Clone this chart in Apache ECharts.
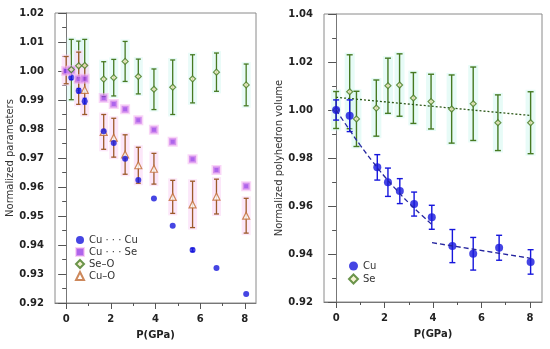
<!DOCTYPE html>
<html><head><meta charset="utf-8">
<script src="https://cdn.jsdelivr.net/npm/echarts@6/dist/echarts.min.js"></script>
<style>html,body{margin:0;padding:0;background:#fff}#c{width:550px;height:349px}</style>
</head><body><div id="c"></div>
<script>
// ---------- Left panel: normalized parameters ----------
const cuCuP = [0, 0.23, 0.56, 0.83, 1.68, 2.13, 2.64, 3.23, 3.93, 4.77, 5.66, 6.73, 8.06];
const cuCuV = [1.000, 0.9978, 0.9932, 0.9896, 0.9792, 0.9752, 0.9697, 0.9624, 0.9560, 0.9466, 0.9383, 0.9321, 0.9231];
const cuCuE = [0, 0.0008, 0.0008, 0.0010, 0, 0, 0, 0, 0, 0, 0.0006, 0, 0];

const cuSeP = [0, 0.23, 0.56, 0.83, 1.68, 2.13, 2.64, 3.23, 3.93, 4.77, 5.66, 6.73, 8.06];
const cuSeV = [1.000, 1.0003, 0.9972, 0.9973, 0.9907, 0.9886, 0.9868, 0.9830, 0.9797, 0.9756, 0.9696, 0.9659, 0.9603];

const seOP = [0.23, 0.56, 0.83, 1.68, 2.13, 2.64, 3.23, 3.93, 4.77, 5.66, 6.73, 8.06];
const seOV = [1.0005, 1.0018, 1.0019, 0.9972, 0.9977, 1.0033, 0.9981, 0.9937, 0.9944, 0.9973, 0.9996, 0.9952];
const seOE = [0.0104, 0.0085, 0.0090, 0.0060, 0.0063, 0.0069, 0.0060, 0.0070, 0.0094, 0.0083, 0.0066, 0.0072];

const cuOP = [0, 0.56, 0.83, 1.68, 2.13, 2.64, 3.23, 3.93, 4.77, 5.66, 6.73, 8.06];
const cuOV = [1.0003, 0.9975, 0.9935, 0.9790, 0.9770, 0.9712, 0.9675, 0.9663, 0.9566, 0.9540, 0.9567, 0.9501];
const cuOE = [0.0047, 0.0090, 0.0085, 0.0060, 0.0067, 0.0068, 0.0062, 0.0053, 0.0057, 0.0080, 0.0060, 0.0060];

// ---------- Right panel: normalized polyhedron volume ----------
const cuP = [0, 0.56, 1.70, 2.14, 2.63, 3.22, 3.95, 4.80, 5.66, 6.73, 8.03];
const cuV = [1.000, 0.9976, 0.9761, 0.9699, 0.9662, 0.9608, 0.9553, 0.9433, 0.9401, 0.9426, 0.9367];
const cuE = [0.0042, 0.0066, 0.0053, 0.0059, 0.0052, 0.0050, 0.0050, 0.0069, 0.0068, 0.0052, 0.0051];

const seP = [0, 0.56, 0.84, 1.66, 2.14, 2.62, 3.19, 3.92, 4.77, 5.66, 6.68, 8.03];
const seV = [1.000, 1.0076, 0.9963, 1.0008, 1.0101, 1.0104, 1.0050, 1.0035, 1.0004, 1.0026, 0.9947, 0.9947];
const seE = [0.0077, 0.0154, 0.0115, 0.0117, 0.0115, 0.0130, 0.0106, 0.0114, 0.0142, 0.0153, 0.0116, 0.0129];

const cuFit1P = [0, 0.5, 1, 1.5, 2, 2.5, 3, 3.5, 3.96];
const cuFit1V = [1.000, 0.9925, 0.9853, 0.9786, 0.9723, 0.9666, 0.9613, 0.9565, 0.9522];
const cuFit2P = [3.96, 8.03];
const cuFit2V = [0.9447, 0.9382];
const seFitP = [0, 8.05];
const seFitV = [1.0053, 0.9977];

const xMajorTicks = [0, 2, 4, 6, 8];
const xMinorTicks = [1, 3, 5, 7];

// ---------- helpers ----------
const pts = (p, v) => p.map((x, i) => [x, v[i]]);
const pts3 = (p, v, e) => p.map((x, i) => [x, v[i], e[i]]);

function makeErr(color, halo, hw, lw) {
  return function (params, api) {
    const x = api.value(0), y = api.value(1), e = api.value(2);
    if (!e) return null;
    const t = api.coord([x, y + e]), b = api.coord([x, y - e]);
    const ch = [];
    if (halo) ch.push({type: 'rect', shape: {x: t[0] - hw - 2, y: t[1] - 2, width: 2 * hw + 4, height: b[1] - t[1] + 4}, style: {fill: halo}});
    const st = {stroke: color, lineWidth: lw};
    ch.push({type: 'line', shape: {x1: t[0], y1: t[1], x2: b[0], y2: b[1]}, style: st});
    ch.push({type: 'line', shape: {x1: t[0] - hw, y1: t[1], x2: t[0] + hw, y2: t[1]}, style: st});
    ch.push({type: 'line', shape: {x1: b[0] - hw, y1: b[1], x2: b[0] + hw, y2: b[1]}, style: st});
    return {type: 'group', children: ch};
  };
}

const FONT = 'DejaVu Sans';
const tickLabel = {fontFamily: FONT, fontWeight: 'bold', fontSize: 10, color: '#222'};

function xAxes(grid) {
  return [{
    gridIndex: grid, type: 'value', min: -0.5, max: 8.5,
    axisLine: {show: true, lineStyle: {color: '#777', width: 1}},
    axisTick: {show: true, customValues: xMajorTicks, length: 6, lineStyle: {color: '#555'}},
    axisLabel: {customValues: xMajorTicks, margin: 11, ...tickLabel},
    splitLine: {show: false},
    name: 'P(GPa)', nameLocation: 'middle', nameGap: 27,
    nameTextStyle: {fontFamily: FONT, fontWeight: 'bold', fontSize: 10, color: '#222'}
  }, {
    gridIndex: grid, type: 'value', min: -0.5, max: 8.5, position: 'bottom',
    axisLine: {show: false},
    axisTick: {show: true, customValues: xMinorTicks, length: 3, lineStyle: {color: '#555'}},
    axisLabel: {show: false}, splitLine: {show: false}
  }];
}
function yAxis(grid, min, max, interval, name) {
  return {
    gridIndex: grid, type: 'value', min: min, max: max, interval: interval,
    axisLine: {show: true, lineStyle: {color: '#777', width: 1}},
    axisTick: {show: true, length: 8, lineStyle: {color: '#555'}},
    minorTick: {show: true, splitNumber: 2, length: 4, lineStyle: {color: '#555'}},
    axisLabel: {margin: 11, formatter: v => v.toFixed(2), ...tickLabel},
    splitLine: {show: false},
    name: name, nameLocation: 'middle', nameGap: 37, nameRotate: 90,
    nameTextStyle: {fontFamily: FONT, fontSize: 10, color: '#333'}
  };
}

const BLUE = '#1717dc', PURPLE = '#9a3fe6', GREEN = '#467a22', BROWN = '#9c5a2a', ORANGE = '#c06a32';

const option = {
  animation: false,
  backgroundColor: '#fff',
  grid: [
    {left: 55, top: 13, width: 201, height: 290, show: true, borderColor: '#8a8a8a', borderWidth: 1, backgroundColor: 'transparent'},
    {left: 324, top: 14, width: 218, height: 288, show: true, borderColor: '#8a8a8a', borderWidth: 1, backgroundColor: 'transparent'}
  ],
  xAxis: [...xAxes(0), ...xAxes(1)],
  yAxis: [yAxis(0, 0.92, 1.02, 0.01, 'Normalized parameters'), yAxis(1, 0.92, 1.04, 0.02, 'Normalized polyhedron volume')],
  legend: [{
    data: ['Cu · · · Cu', 'Cu · · · Se', 'Se–O', 'Cu–O'],
    orient: 'vertical', left: 75, top: 235, padding: 0, itemWidth: 8, itemHeight: 8, itemGap: 2,
    selectedMode: false, textStyle: {fontFamily: FONT, fontSize: 10, color: '#333'}
  }, {
    data: ['Cu', 'Se'],
    orient: 'vertical', left: 348, top: 261, padding: 0, itemWidth: 9, itemHeight: 9, itemGap: 2.5,
    selectedMode: false, textStyle: {fontFamily: FONT, fontSize: 10, color: '#333'}
  }],
  series: [
    // left panel error bars
    {type: 'custom', xAxisIndex: 0, yAxisIndex: 0, renderItem: makeErr(GREEN, 'rgba(215,248,242,0.55)', 2.5, 1.3), data: pts3(seOP, seOV, seOE), encode: {x: 0, y: 1}, z: 1},
    {type: 'custom', xAxisIndex: 0, yAxisIndex: 0, renderItem: makeErr(BROWN, 'rgba(250,215,245,0.6)', 2.5, 1.3), data: pts3(cuOP, cuOV, cuOE), encode: {x: 0, y: 1}, z: 1},
    {type: 'custom', xAxisIndex: 0, yAxisIndex: 0, renderItem: makeErr(BLUE, null, 2, 1.2), data: pts3(cuCuP, cuCuV, cuCuE), encode: {x: 0, y: 1}, z: 1},
    {name: 'Cu–O', type: 'scatter', xAxisIndex: 0, yAxisIndex: 0, symbol: 'triangle', symbolSize: 7,
      itemStyle: {color: '#fff', borderColor: ORANGE, borderWidth: 1.2}, data: pts(cuOP, cuOV), z: 3},
    {name: 'Cu · · · Cu', type: 'scatter', xAxisIndex: 0, yAxisIndex: 0, symbol: 'circle', symbolSize: 6,
      itemStyle: {color: BLUE}, data: pts(cuCuP, cuCuV), z: 4},
    {name: 'Cu · · · Se', type: 'scatter', xAxisIndex: 0, yAxisIndex: 0, symbol: 'rect', symbolSize: 7,
      itemStyle: {color: PURPLE, borderColor: 'rgba(245,180,240,0.7)', borderWidth: 3}, data: pts(cuSeP, cuSeV), z: 5},
    {name: 'Se–O', type: 'scatter', xAxisIndex: 0, yAxisIndex: 0, symbol: 'diamond', symbolSize: 6,
      itemStyle: {color: '#f4f0c8', borderColor: GREEN, borderWidth: 1.2}, data: pts(seOP, seOV), z: 6},

    // right panel
    {type: 'custom', xAxisIndex: 2, yAxisIndex: 1, renderItem: makeErr(GREEN, 'rgba(215,248,242,0.6)', 3, 1.4), data: pts3(seP, seV, seE), encode: {x: 0, y: 1}, z: 1},
    {type: 'line', xAxisIndex: 2, yAxisIndex: 1, showSymbol: false, symbol: 'none', data: pts(seFitP, seFitV),
      lineStyle: {color: '#2e5a1a', width: 1.3, type: [2, 2]}, z: 2},
    {name: 'Se', type: 'scatter', xAxisIndex: 2, yAxisIndex: 1, symbol: 'diamond', symbolSize: 6,
      itemStyle: {color: '#f4f0c8', borderColor: GREEN, borderWidth: 1.2}, data: pts(seP, seV), z: 3},
    {type: 'custom', xAxisIndex: 2, yAxisIndex: 1, renderItem: makeErr(BLUE, null, 3, 1.4), data: pts3(cuP, cuV, cuE), encode: {x: 0, y: 1}, z: 4},
    {name: 'Cu', type: 'scatter', xAxisIndex: 2, yAxisIndex: 1, symbol: 'circle', symbolSize: 8,
      itemStyle: {color: BLUE}, data: pts(cuP, cuV), z: 5},
    {type: 'line', xAxisIndex: 2, yAxisIndex: 1, showSymbol: false, symbol: 'none', smooth: true, data: pts(cuFit1P, cuFit1V),
      lineStyle: {color: '#2626a0', width: 1.3, type: [5, 3]}, z: 6},
    {type: 'line', xAxisIndex: 2, yAxisIndex: 1, showSymbol: false, symbol: 'none', data: pts(cuFit2P, cuFit2V),
      lineStyle: {color: '#2626a0', width: 1.3, type: [5, 3]}, z: 6}
  ]
};

const chart = echarts.init(document.getElementById('c'), null, {renderer: 'canvas'});
chart.setOption(option);
</script>
</body></html>
